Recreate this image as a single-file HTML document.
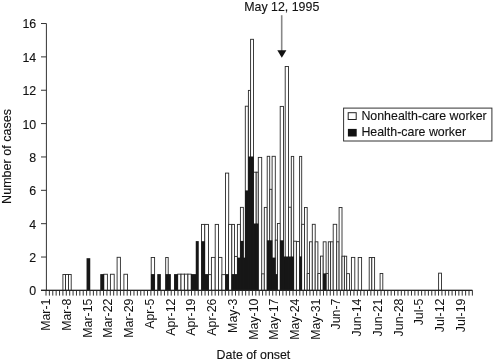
<!DOCTYPE html>
<html><head><meta charset="utf-8"><style>
html,body{margin:0;padding:0;background:#fff;}
svg{display:block;filter:grayscale(1) blur(0.3px);}
text{font-family:"Liberation Sans",sans-serif;font-size:12.4px;fill:#111;stroke:#111;stroke-width:0.12px;}
.xl{stroke-width:0;}
</style></head><body>
<svg width="494" height="362" viewBox="0 0 494 362">
<rect width="494" height="362" fill="#fff"/>
<g fill="#fff" stroke="#2a2a2a" stroke-width="0.9">
<rect x="62.9" y="274.5" width="2.6" height="15.9"/>
<rect x="65.5" y="274.5" width="2.95" height="15.9"/>
<rect x="68.45" y="274.5" width="2.75" height="15.9"/>
<rect x="103.8" y="274.25" width="3.6" height="16.15"/>
<rect x="110.4" y="274.25" width="3.8" height="16.15"/>
<rect x="117.1" y="257.3" width="3.3" height="33.1"/>
<rect x="123.9" y="274.25" width="3.6" height="16.15"/>
<rect x="151.2" y="257.5" width="3.4" height="32.9"/>
<rect x="165.7" y="257.5" width="2.5" height="32.9"/>
<rect x="177.7" y="274.15" width="3.3" height="16.25"/>
<rect x="181" y="274.15" width="3.4" height="16.25"/>
<rect x="184.4" y="274.15" width="3.5" height="16.25"/>
<rect x="187.9" y="274.15" width="3.3" height="16.25"/>
<rect x="201.5" y="224.4" width="3.25" height="66"/>
<rect x="204.75" y="224.4" width="3.75" height="66"/>
<rect x="208.5" y="274.65" width="2.9" height="15.75"/>
<rect x="211.4" y="257.4" width="3.8" height="33"/>
<rect x="215.2" y="224.4" width="3.25" height="66"/>
<rect x="218.45" y="257.4" width="3.45" height="33"/>
<rect x="221.9" y="274.65" width="3.6" height="15.75"/>
<rect x="225.5" y="173.1" width="3.2" height="117.3"/>
<rect x="228.6" y="224.4" width="3.2" height="66"/>
<rect x="231.8" y="224.4" width="2.7" height="66"/>
<rect x="234.5" y="256.4" width="2.9" height="34"/>
<rect x="237.4" y="224.4" width="3" height="66"/>
<rect x="240.4" y="207.35" width="2.95" height="83.05"/>
<rect x="245.3" y="106.2" width="3" height="184.2"/>
<rect x="248.4" y="90.4" width="2.2" height="200"/>
<rect x="250.6" y="39.3" width="2.9" height="251.1"/>
<rect x="253.5" y="172.2" width="2.7" height="118.2"/>
<rect x="256.2" y="172.2" width="2.1" height="118.2"/>
<rect x="258.3" y="157.4" width="3.4" height="133"/>
<rect x="261.7" y="273.85" width="2.6" height="16.55"/>
<rect x="264.3" y="207.4" width="2.9" height="83"/>
<rect x="267.2" y="156.3" width="2.5" height="134.1"/>
<rect x="269.7" y="189.3" width="2.4" height="101.1"/>
<rect x="272.1" y="156.3" width="3.2" height="134.1"/>
<rect x="275.3" y="240.1" width="2.1" height="50.3"/>
<rect x="277.4" y="223.5" width="3" height="66.9"/>
<rect x="280.2" y="106.4" width="3.3" height="184"/>
<rect x="285.2" y="66.5" width="3.3" height="223.9"/>
<rect x="288.5" y="207.2" width="2.8" height="83.2"/>
<rect x="291.3" y="156.4" width="2.4" height="134"/>
<rect x="293.7" y="241.2" width="2.7" height="49.2"/>
<rect x="296.4" y="241.6" width="3.2" height="48.8"/>
<rect x="299.6" y="156.4" width="2.1" height="134"/>
<rect x="301.7" y="224.3" width="2.8" height="66.1"/>
<rect x="304.5" y="207.5" width="2.7" height="82.9"/>
<rect x="307.2" y="273.55" width="2.3" height="16.85"/>
<rect x="309.5" y="241.8" width="2.8" height="48.6"/>
<rect x="312.3" y="224.3" width="2.9" height="66.1"/>
<rect x="315.2" y="241.8" width="2.7" height="48.6"/>
<rect x="317.9" y="273.55" width="2.6" height="16.85"/>
<rect x="320.5" y="256.1" width="2.7" height="34.3"/>
<rect x="323.2" y="241.8" width="2.9" height="48.6"/>
<rect x="326.1" y="273.55" width="2.4" height="16.85"/>
<rect x="328.3" y="241.8" width="2.3" height="48.6"/>
<rect x="330.6" y="241.8" width="2.6" height="48.6"/>
<rect x="333.2" y="224.3" width="3.5" height="66.1"/>
<rect x="336.7" y="241.8" width="2.4" height="48.6"/>
<rect x="339.1" y="207.5" width="2.9" height="82.9"/>
<rect x="342" y="256.2" width="2.4" height="34.2"/>
<rect x="344.4" y="256.2" width="2.3" height="34.2"/>
<rect x="346.7" y="273.65" width="2.8" height="16.75"/>
<rect x="351.4" y="257.4" width="3.4" height="33"/>
<rect x="358.2" y="257.5" width="3.4" height="32.9"/>
<rect x="369.2" y="257.5" width="2.6" height="32.9"/>
<rect x="371.8" y="257.5" width="2.8" height="32.9"/>
<rect x="380.1" y="273.45" width="2.7" height="16.95"/>
<rect x="438.6" y="273.15" width="2.9" height="17.25"/>
</g>
<g fill="#161616">
<rect x="86.55" y="258.2" width="3.7" height="32.2"/>
<rect x="100.25" y="274.1" width="3.8" height="16.3"/>
<rect x="150.95" y="274.1" width="3.9" height="16.3"/>
<rect x="157.25" y="274.1" width="3.6" height="16.3"/>
<rect x="165.45" y="274.1" width="3" height="16.3"/>
<rect x="167.95" y="274.1" width="2.9" height="16.3"/>
<rect x="174.05" y="274.1" width="3.9" height="16.3"/>
<rect x="190.95" y="274.1" width="5.3" height="16.3"/>
<rect x="195.75" y="241.1" width="3" height="49.3"/>
<rect x="201.25" y="241.2" width="3.75" height="49.2"/>
<rect x="204.5" y="274.1" width="4.25" height="16.3"/>
<rect x="225.25" y="274.1" width="3.7" height="16.3"/>
<rect x="231.55" y="274.1" width="3.2" height="16.3"/>
<rect x="234.25" y="274.1" width="3.4" height="16.3"/>
<rect x="237.15" y="257.6" width="3.5" height="32.8"/>
<rect x="240.15" y="240.9" width="3.45" height="49.5"/>
<rect x="243.1" y="257.6" width="2.45" height="32.8"/>
<rect x="245.05" y="190.4" width="3.5" height="100"/>
<rect x="248.15" y="156.5" width="2.7" height="133.9"/>
<rect x="250.35" y="156.5" width="3.4" height="133.9"/>
<rect x="253.25" y="223.5" width="3.2" height="66.9"/>
<rect x="255.95" y="223.5" width="2.6" height="66.9"/>
<rect x="266.95" y="240.3" width="3" height="50.1"/>
<rect x="269.45" y="240.3" width="2.9" height="50.1"/>
<rect x="271.85" y="257.6" width="3.7" height="32.8"/>
<rect x="275.05" y="274.1" width="2.6" height="16.3"/>
<rect x="279.95" y="240.3" width="3.8" height="50.1"/>
<rect x="283.25" y="256.5" width="2.2" height="33.9"/>
<rect x="284.95" y="256.5" width="3.8" height="33.9"/>
<rect x="288.25" y="256.5" width="3.3" height="33.9"/>
<rect x="291.05" y="256.5" width="2.9" height="33.9"/>
<rect x="299.35" y="256.4" width="2.6" height="34"/>
<rect x="322.95" y="273.4" width="3.4" height="17"/>
</g>
<path d="M46.4 23.5V290.4M41 290.4H472.4 M41 290.4H46.4 M41 257.04H46.4 M41 223.68H46.4 M41 190.32H46.4 M41 156.96H46.4 M41 123.6H46.4 M41 90.24H46.4 M41 56.88H46.4 M41 23.52H46.4 M46 290.4V295.6 M49.38 290.4V295.6 M52.77 290.4V295.6 M56.15 290.4V295.6 M59.54 290.4V295.6 M62.92 290.4V295.6 M66.3 290.4V295.6 M69.69 290.4V295.6 M73.07 290.4V295.6 M76.46 290.4V295.6 M79.84 290.4V295.6 M83.22 290.4V295.6 M86.61 290.4V295.6 M89.99 290.4V295.6 M93.38 290.4V295.6 M96.76 290.4V295.6 M100.14 290.4V295.6 M103.53 290.4V295.6 M106.91 290.4V295.6 M110.3 290.4V295.6 M113.68 290.4V295.6 M117.06 290.4V295.6 M120.45 290.4V295.6 M123.83 290.4V295.6 M127.22 290.4V295.6 M130.6 290.4V295.6 M133.98 290.4V295.6 M137.37 290.4V295.6 M140.75 290.4V295.6 M144.14 290.4V295.6 M147.52 290.4V295.6 M150.9 290.4V295.6 M154.29 290.4V295.6 M157.67 290.4V295.6 M161.06 290.4V295.6 M164.44 290.4V295.6 M167.82 290.4V295.6 M171.21 290.4V295.6 M174.59 290.4V295.6 M177.98 290.4V295.6 M181.36 290.4V295.6 M184.74 290.4V295.6 M188.13 290.4V295.6 M191.51 290.4V295.6 M194.9 290.4V295.6 M198.28 290.4V295.6 M201.66 290.4V295.6 M205.05 290.4V295.6 M208.43 290.4V295.6 M211.82 290.4V295.6 M215.2 290.4V295.6 M218.58 290.4V295.6 M221.97 290.4V295.6 M225.35 290.4V295.6 M228.74 290.4V295.6 M232.12 290.4V295.6 M235.5 290.4V295.6 M238.89 290.4V295.6 M242.27 290.4V295.6 M245.66 290.4V295.6 M249.04 290.4V295.6 M252.42 290.4V295.6 M255.81 290.4V295.6 M259.19 290.4V295.6 M262.58 290.4V295.6 M265.96 290.4V295.6 M269.34 290.4V295.6 M272.73 290.4V295.6 M276.11 290.4V295.6 M279.5 290.4V295.6 M282.88 290.4V295.6 M286.26 290.4V295.6 M289.65 290.4V295.6 M293.03 290.4V295.6 M296.42 290.4V295.6 M299.8 290.4V295.6 M303.18 290.4V295.6 M306.57 290.4V295.6 M309.95 290.4V295.6 M313.34 290.4V295.6 M316.72 290.4V295.6 M320.1 290.4V295.6 M323.49 290.4V295.6 M326.87 290.4V295.6 M330.26 290.4V295.6 M333.64 290.4V295.6 M337.02 290.4V295.6 M340.41 290.4V295.6 M343.79 290.4V295.6 M347.18 290.4V295.6 M350.56 290.4V295.6 M353.94 290.4V295.6 M357.33 290.4V295.6 M360.71 290.4V295.6 M364.1 290.4V295.6 M367.48 290.4V295.6 M370.86 290.4V295.6 M374.25 290.4V295.6 M377.63 290.4V295.6 M381.02 290.4V295.6 M384.4 290.4V295.6 M387.78 290.4V295.6 M391.17 290.4V295.6 M394.55 290.4V295.6 M397.94 290.4V295.6 M401.32 290.4V295.6 M404.7 290.4V295.6 M408.09 290.4V295.6 M411.47 290.4V295.6 M414.86 290.4V295.6 M418.24 290.4V295.6 M421.62 290.4V295.6 M425.01 290.4V295.6 M428.39 290.4V295.6 M431.78 290.4V295.6 M435.16 290.4V295.6 M438.54 290.4V295.6 M441.93 290.4V295.6 M445.31 290.4V295.6 M448.7 290.4V295.6 M452.08 290.4V295.6 M455.46 290.4V295.6 M458.85 290.4V295.6 M462.23 290.4V295.6 M465.62 290.4V295.6 M469 290.4V295.6 M472.38 290.4V295.6" stroke="#333" stroke-width="1" fill="none"/>
<path d="M41 290.4H472.4" stroke="#222" stroke-width="1.2" fill="none"/>
<text x="36.2" y="295.3" text-anchor="end">0</text>
<text x="36.2" y="261.94" text-anchor="end">2</text>
<text x="36.2" y="228.58" text-anchor="end">4</text>
<text x="36.2" y="195.22" text-anchor="end">6</text>
<text x="36.2" y="161.86" text-anchor="end">8</text>
<text x="36.2" y="128.5" text-anchor="end">10</text>
<text x="36.2" y="95.14" text-anchor="end">12</text>
<text x="36.2" y="61.78" text-anchor="end">14</text>
<text x="36.2" y="28.42" text-anchor="end">16</text>
<text transform="translate(50.3 298.5) rotate(-90)" text-anchor="end" class="xl">Mar-1</text>
<text transform="translate(71.03 298.5) rotate(-90)" text-anchor="end" class="xl">Mar-8</text>
<text transform="translate(91.75 298.5) rotate(-90)" text-anchor="end" class="xl">Mar-15</text>
<text transform="translate(112.48 298.5) rotate(-90)" text-anchor="end" class="xl">Mar-22</text>
<text transform="translate(133.2 298.5) rotate(-90)" text-anchor="end" class="xl">Mar-29</text>
<text transform="translate(153.93 298.5) rotate(-90)" text-anchor="end" class="xl">Apr-5</text>
<text transform="translate(174.65 298.5) rotate(-90)" text-anchor="end" class="xl">Apr-12</text>
<text transform="translate(195.38 298.5) rotate(-90)" text-anchor="end" class="xl">Apr-19</text>
<text transform="translate(216.1 298.5) rotate(-90)" text-anchor="end" class="xl">Apr-26</text>
<text transform="translate(236.83 298.5) rotate(-90)" text-anchor="end" class="xl">May-3</text>
<text transform="translate(257.55 298.5) rotate(-90)" text-anchor="end" class="xl">May-10</text>
<text transform="translate(278.27 298.5) rotate(-90)" text-anchor="end" class="xl">May-17</text>
<text transform="translate(299 298.5) rotate(-90)" text-anchor="end" class="xl">May-24</text>
<text transform="translate(319.72 298.5) rotate(-90)" text-anchor="end" class="xl">May-31</text>
<text transform="translate(340.45 298.5) rotate(-90)" text-anchor="end" class="xl">Jun-7</text>
<text transform="translate(361.17 298.5) rotate(-90)" text-anchor="end" class="xl">Jun-14</text>
<text transform="translate(381.9 298.5) rotate(-90)" text-anchor="end" class="xl">Jun-21</text>
<text transform="translate(402.62 298.5) rotate(-90)" text-anchor="end" class="xl">Jun-28</text>
<text transform="translate(423.35 298.5) rotate(-90)" text-anchor="end" class="xl">Jul-5</text>
<text transform="translate(444.07 298.5) rotate(-90)" text-anchor="end" class="xl">Jul-12</text>
<text transform="translate(464.8 298.5) rotate(-90)" text-anchor="end" class="xl">Jul-19</text>
<text transform="translate(11.2 203.9) rotate(-90)" style="font-size:12.55px">Number of cases</text>
<text x="216.6" y="359">Date of onset</text>
<text x="244.2" y="10.9">May 12, 1995</text>
<path d="M281.7 15.2V51" stroke="#888" stroke-width="1.6"/>
<path d="M277.3 50.3H286.4L281.8 57.8Z" fill="#111"/>
<rect x="343.6" y="108.1" width="148.3" height="32.9" fill="#fff" stroke="#333" stroke-width="1"/>
<rect x="348.2" y="112.7" width="8" height="6.8" fill="#fff" stroke="#222" stroke-width="1"/>
<rect x="347.9" y="128.9" width="8.8" height="7.6" fill="#111"/>
<text x="361.4" y="119.7">Nonhealth-care worker</text>
<text x="361.4" y="135.9">Health-care worker</text>
</svg>
</body></html>
